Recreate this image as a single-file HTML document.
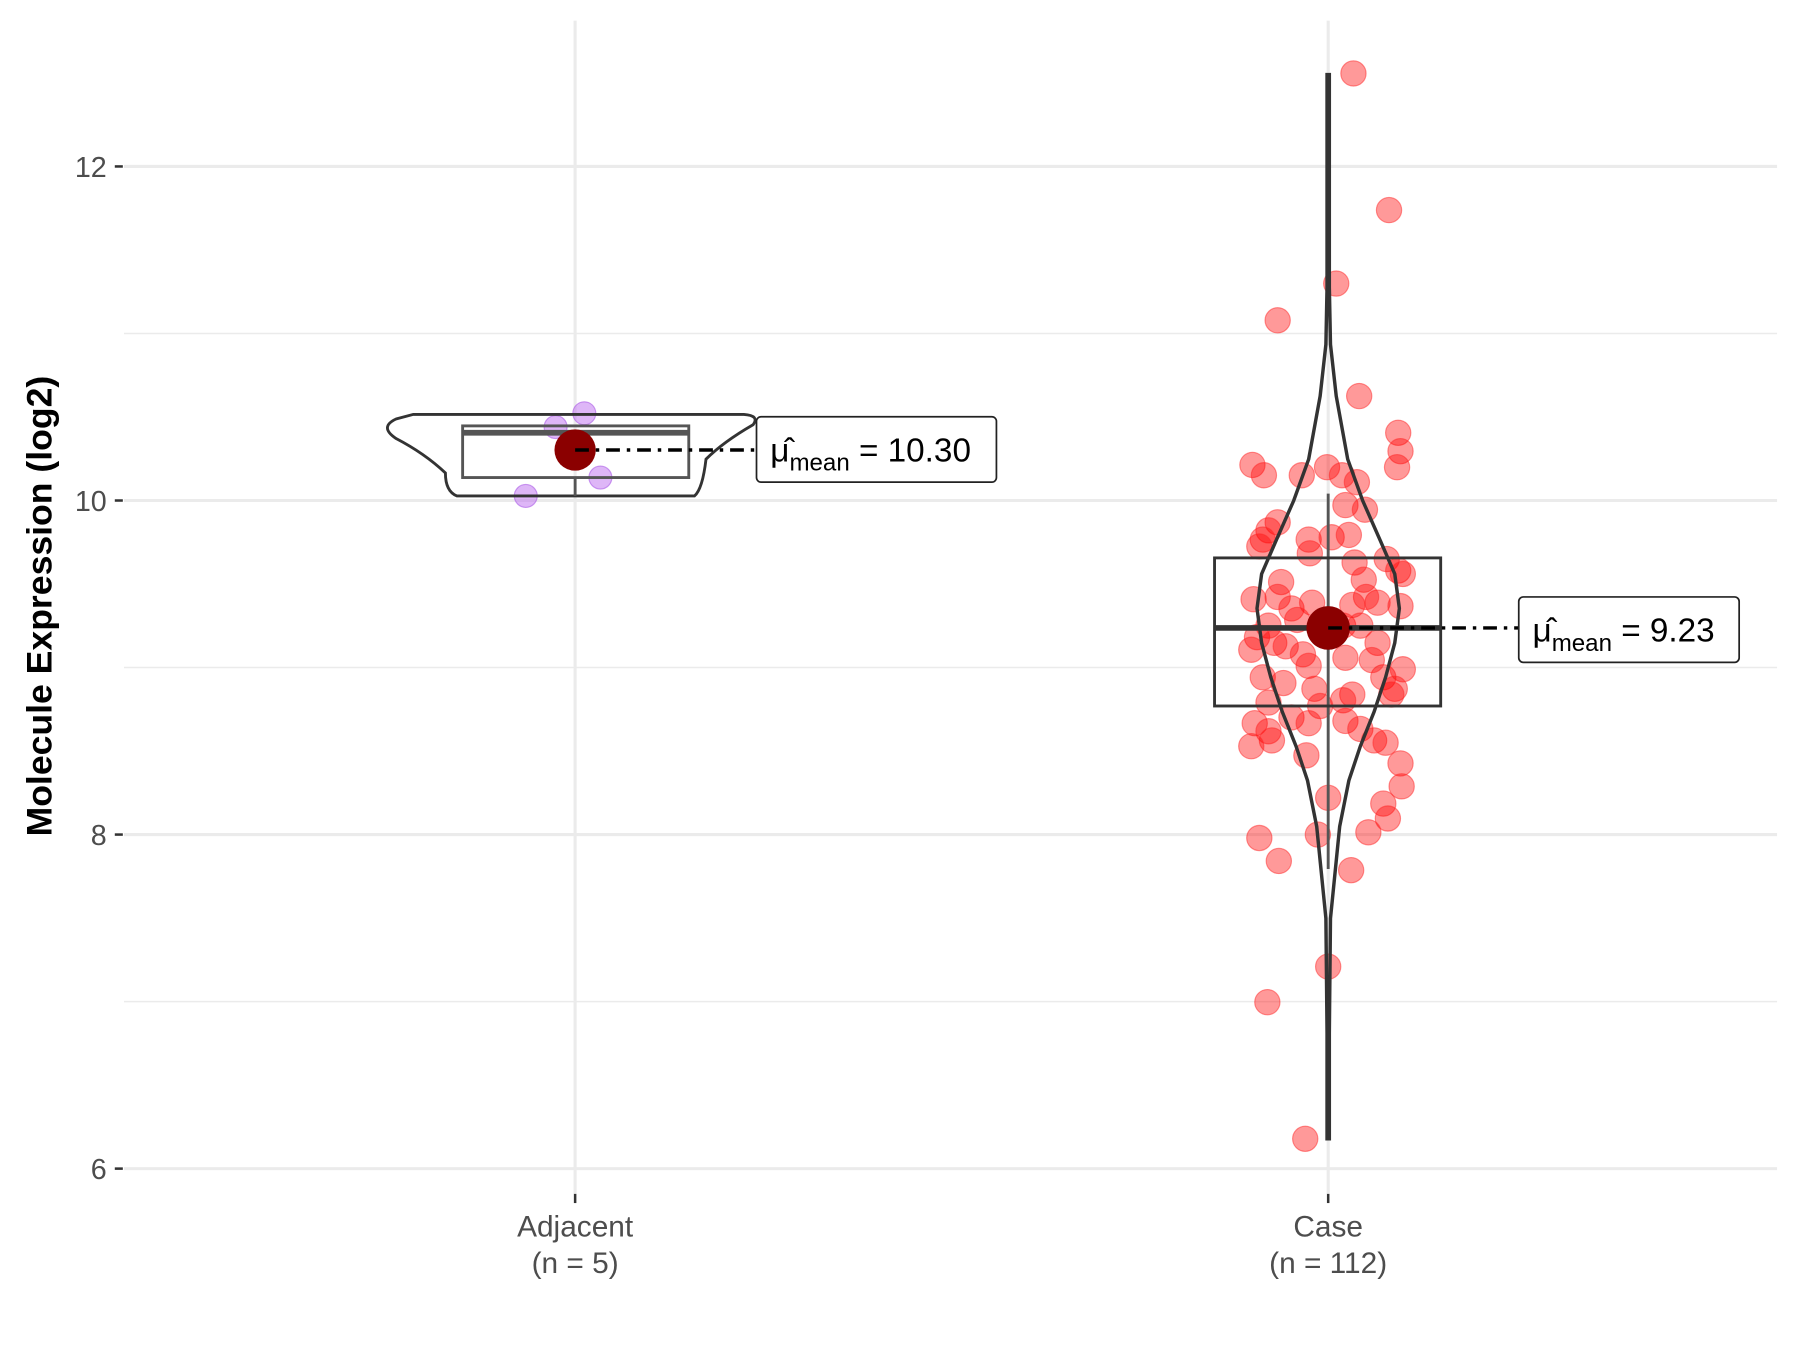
<!DOCTYPE html>
<html><head><meta charset="utf-8"><style>html,body{margin:0;padding:0;background:#fff}svg{display:block}</style></head>
<body>
<svg width="1800" height="1350" viewBox="0 0 1568 1176" xmlns="http://www.w3.org/2000/svg" font-family="Liberation Sans, sans-serif">
<rect width="1568" height="1176" fill="#fff"/>
<g stroke="#ebebeb" stroke-width="1.3">
<line x1="108" x2="1548" y1="290.5" y2="290.5"/><line x1="108" x2="1548" y1="581.5" y2="581.5"/><line x1="108" x2="1548" y1="872.5" y2="872.5"/>
</g>
<g stroke="#ebebeb" stroke-width="2.7">
<line x1="108" x2="1548" y1="145" y2="145"/><line x1="108" x2="1548" y1="436" y2="436"/><line x1="108" x2="1548" y1="727" y2="727"/><line x1="108" x2="1548" y1="1018" y2="1018"/>
<line x1="501" x2="501" y1="18" y2="1040"/><line x1="1157" x2="1157" y1="18" y2="1040"/>
</g>
<g stroke="#333" stroke-width="2.2">
<line x1="100" x2="107" y1="145" y2="145"/><line x1="100" x2="107" y1="436" y2="436"/><line x1="100" x2="107" y1="727" y2="727"/><line x1="100" x2="107" y1="1018" y2="1018"/>
<line x1="501" x2="501" y1="1040" y2="1048"/><line x1="1157" x2="1157" y1="1040" y2="1048"/>
</g>
<g fill="#4d4d4d" font-size="25" text-anchor="end">
<text x="93" y="154">12</text><text x="93" y="445">10</text><text x="93" y="736">8</text><text x="93" y="1027">6</text>
</g>
<g fill="#4d4d4d" font-size="26" text-anchor="middle">
<text x="501" y="1077">Adjacent</text><text x="501" y="1109">(n = 5)</text>
<text x="1157" y="1077">Case</text><text x="1157" y="1109">(n = 112)</text>
</g>
<text transform="translate(45,528) rotate(-90)" font-size="31" font-weight="bold" text-anchor="middle" fill="#000">Molecule Expression (log2)</text>

<!-- Adjacent -->
<g fill="rgba(190,110,240,0.5)" stroke="rgba(170,90,230,0.6)">
<circle cx="509" cy="360" r="10"/><circle cx="484" cy="372" r="10"/><circle cx="458" cy="432" r="10"/><circle cx="523" cy="416" r="10"/>
</g>
<path d="M360,361 L648,361 Q662,362 656,370 Q630,385 615,400 Q612,426 605,432 L398,432 Q388,428 388,412 Q370,395 345,382 Q330,372 345,365 Z" fill="none" stroke="#333" stroke-width="2.5"/>
<rect x="403" y="371" width="197" height="45" fill="none" stroke="#555" stroke-width="2.5"/>
<line x1="403" x2="600" y1="377" y2="377" stroke="#555" stroke-width="5"/>
<line x1="501" x2="501" y1="416" y2="432" stroke="#555" stroke-width="2.5"/>
<circle cx="501" cy="392" r="18" fill="#8b0000"/>
<line x1="501" x2="660" y1="392" y2="392" stroke="#000" stroke-width="3" stroke-dasharray="12,6,3,6"/>
<rect x="659" y="363" width="209" height="57" rx="4" fill="#fff" stroke="#222" stroke-width="1.5"/>
<text x="671" y="402" font-size="29" fill="#000">μ̂<tspan font-size="21" dy="8">mean</tspan><tspan dy="-8"> = 10.30</tspan></text>

<!-- Case -->
<g fill="rgba(255,0,0,0.4)" stroke="rgba(255,40,40,0.5)">
<circle cx="1179" cy="64" r="11"/><circle cx="1210" cy="183" r="11"/><circle cx="1164" cy="247" r="11"/><circle cx="1113" cy="279" r="11"/><circle cx="1184" cy="345" r="11"/><circle cx="1218" cy="377" r="11"/><circle cx="1220" cy="393" r="11"/><circle cx="1217" cy="407" r="11"/><circle cx="1091" cy="405" r="11"/><circle cx="1101" cy="414" r="11"/><circle cx="1134" cy="414" r="11"/><circle cx="1156" cy="407" r="11"/><circle cx="1169" cy="414" r="11"/><circle cx="1182" cy="420" r="11"/><circle cx="1172" cy="440" r="11"/><circle cx="1189" cy="444" r="11"/><circle cx="1113" cy="455" r="11"/><circle cx="1105" cy="462" r="11"/><circle cx="1100" cy="470" r="11"/><circle cx="1097" cy="476" r="11"/><circle cx="1140" cy="470" r="11"/><circle cx="1160" cy="468" r="11"/><circle cx="1175" cy="466" r="11"/><circle cx="1141" cy="482" r="11"/><circle cx="1180" cy="490" r="11"/><circle cx="1208" cy="487" r="11"/><circle cx="1218" cy="497" r="11"/><circle cx="1222" cy="500" r="11"/><circle cx="1188" cy="505" r="11"/><circle cx="1116" cy="507" r="11"/><circle cx="1092" cy="522" r="11"/><circle cx="1113" cy="520" r="11"/><circle cx="1125" cy="530" r="11"/><circle cx="1200" cy="525" r="11"/><circle cx="1190" cy="520" r="11"/><circle cx="1178" cy="527" r="11"/><circle cx="1220" cy="528" r="11"/><circle cx="1143" cy="525" r="11"/><circle cx="1105" cy="545" r="11"/><circle cx="1095" cy="555" r="11"/><circle cx="1110" cy="560" r="11"/><circle cx="1120" cy="563" r="11"/><circle cx="1135" cy="570" r="11"/><circle cx="1140" cy="580" r="11"/><circle cx="1172" cy="573" r="11"/><circle cx="1200" cy="560" r="11"/><circle cx="1090" cy="566" r="11"/><circle cx="1205" cy="590" r="11"/><circle cx="1222" cy="583" r="11"/><circle cx="1215" cy="600" r="11"/><circle cx="1212" cy="605" r="11"/><circle cx="1145" cy="600" r="11"/><circle cx="1178" cy="605" r="11"/><circle cx="1170" cy="610" r="11"/><circle cx="1150" cy="615" r="11"/><circle cx="1105" cy="612" r="11"/><circle cx="1093" cy="630" r="11"/><circle cx="1105" cy="637" r="11"/><circle cx="1108" cy="645" r="11"/><circle cx="1125" cy="625" r="11"/><circle cx="1140" cy="630" r="11"/><circle cx="1172" cy="628" r="11"/><circle cx="1185" cy="635" r="11"/><circle cx="1197" cy="645" r="11"/><circle cx="1207" cy="647" r="11"/><circle cx="1090" cy="650" r="11"/><circle cx="1138" cy="658" r="11"/><circle cx="1220" cy="665" r="11"/><circle cx="1221" cy="685" r="11"/><circle cx="1205" cy="700" r="11"/><circle cx="1157" cy="695" r="11"/><circle cx="1209" cy="713" r="11"/><circle cx="1192" cy="725" r="11"/><circle cx="1148" cy="727" r="11"/><circle cx="1097" cy="730" r="11"/><circle cx="1114" cy="750" r="11"/><circle cx="1177" cy="758" r="11"/><circle cx="1157" cy="842" r="11"/><circle cx="1104" cy="873" r="11"/><circle cx="1137" cy="992" r="11"/><circle cx="1160" cy="540" r="11"/><circle cx="1170" cy="545" r="11"/><circle cx="1130" cy="540" r="11"/><circle cx="1185" cy="545" r="11"/><circle cx="1100" cy="590" r="11"/><circle cx="1118" cy="595" r="11"/><circle cx="1195" cy="575" r="11"/>
</g>
<line x1="1157" x2="1157" y1="430" y2="757" stroke="#555" stroke-width="2.5"/>
<rect x="1058" y="486" width="197" height="129" fill="none" stroke="#333" stroke-width="2.5"/>
<line x1="1058" x2="1255" y1="547" y2="547" stroke="#333" stroke-width="5"/>
<path d="M1156,65 L1156,250 L1155,300 L1150,345 L1140,400 L1127,436 L1112,470 L1099,500 L1095,530 L1099,560 L1107,590 L1117,620 L1129,650 L1139,680 L1147,720 L1151,760 L1155,800 L1156,900 L1156,992 L1158,992 L1158,900 L1159,800 L1163,760 L1167,720 L1175,680 L1185,650 L1197,620 L1207,590 L1215,560 L1219,530 L1215,500 L1202,470 L1187,436 L1174,400 L1164,345 L1159,300 L1158,250 L1158,65 Z" fill="none" stroke="#333" stroke-width="3"/>
<circle cx="1157" cy="547" r="19" fill="#8b0000"/>
<line x1="1157" x2="1323" y1="547" y2="547" stroke="#000" stroke-width="3" stroke-dasharray="12,6,3,6"/>
<rect x="1323" y="520" width="192" height="57" rx="4" fill="#fff" stroke="#222" stroke-width="1.5"/>
<text x="1335" y="559" font-size="29" fill="#000">μ̂<tspan font-size="21" dy="8">mean</tspan><tspan dy="-8"> = 9.23</tspan></text>
</svg>
</body></html>
